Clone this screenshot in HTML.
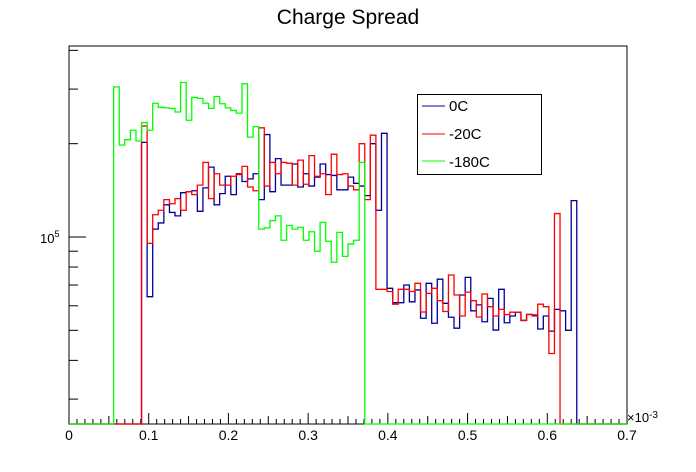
<!DOCTYPE html>
<html><head><meta charset="utf-8"><style>
body{margin:0;background:#fff;}
svg{display:block;font-family:"Liberation Sans",sans-serif;}
</style></head><body>
<svg id="chart" width="696" height="472" viewBox="0 0 696 472">
<rect width="696" height="472" fill="#fff"/>
<text x="348" y="24" font-size="21" text-anchor="middle">Charge Spread</text>
<rect x="69" y="46" width="558" height="378" fill="none" stroke="#000" stroke-width="1"/>
<g id="axes"></g>
<g id="plot"></g>
<g>
<rect x="417.5" y="94.5" width="124" height="80" fill="#fff" stroke="#000"/>
<g><line x1="422" y1="106" x2="445" y2="106" stroke="#00009c"/><text x="449" y="111" font-size="15">0C</text></g>
<g><line x1="422" y1="134" x2="445" y2="134" stroke="#ff0000"/><text x="449" y="139" font-size="15">-20C</text></g>
<g><line x1="422" y1="161" x2="445" y2="161" stroke="#00ff00"/><text x="449" y="167" font-size="15">-180C</text></g>
</g>
</svg>
<script>
// values in thousands of counts, per bin (100 bins over 0..0.7e-3)
const nBins = 100;
const xMin = 0, xMax = 0.7;
const xTickLabels = ["0","0.1","0.2","0.3","0.4","0.5","0.6","0.7"];
const green180Start = 8;
const green180 = [305,198,206,221,204,234,221,270,262,261,260,253,315,238,282,280,270,260,284,269,261,256,251,312,210,227,106,107,113,117,97.6,109,106,107.5,97.6,104,90,111.5,96.9,82.9,103.5,86.6,94.9,97.6,174];
const blue0Start = 13;
const blue0 = [202,64.2,106,111,127,120,117,139,140,141,121,144,168,127,138,157,137,160,151,154,160,132,214,140,179,147,147,172,145,160,146,156,172,159,158,142,142,156,149,146,136,200,122,216,68.3,61.4,61.4,70,61.8,67.5,54.7,70.9,52.7,73.1,61.1,55.1,50.8,65,74.1,57.8,60.4,53.3,63.4,50.1,67.8,52.9,55.6,57.2,53.8,56.3,56,50.5,55.6,49.7,58.4,57.8,50,131];
const red20Start = 13;
const red20 = [228,95.4,118,122,132,128,133,122,140,137,147,174,133,160,147,147,157,159,169,145,141,225,146,174,160,174,173,147,177,148,183,157,160,137,185,159,160,146,142,200,132,213,67.8,67.8,66.7,60.7,67.8,67.8,66.7,70.9,57.3,65.8,68.3,62.3,57.5,75.4,65,55.6,66.4,62.3,55.2,65.5,59.6,55.6,58.4,56.2,57.2,57.2,53.8,56.2,55.6,60.7,59.6,42.1,119];

const X0=69, X1=627, Y0=46, Y1=424;
const yRefPx=237, pxPerDecade=310;
function xs(v){return X0+(v-xMin)/(xMax-xMin)*(X1-X0);}
function ys(v){ if(!(v>0)) return Y1; const y=yRefPx-pxPerDecade*Math.log10(v*1000/1e5); return Math.max(Y0,Math.min(Y1,y));}
const NS="http://www.w3.org/2000/svg";
const plot=document.getElementById('plot');
const axes=document.getElementById('axes');
function full(start,arr){const a=new Array(nBins).fill(0);arr.forEach((v,i)=>{a[start+i]=v;});return a;}
function histPath(vals){
  const bw=(xMax-xMin)/nBins;
  let d="M"+xs(xMin)+" "+ys(vals[0]);
  for(let i=0;i<nBins;i++){
    const y=ys(vals[i]);
    d+=" L"+xs(xMin+i*bw)+" "+y+" L"+xs(xMin+(i+1)*bw)+" "+y;
  }
  return d;
}
const series=[[blue0Start,blue0,"#00009c","hist-0c"],[red20Start,red20,"#ff0000","hist-minus20c"],[green180Start,green180,"#00ff00","hist-minus180c"]];
series.forEach(s=>{
  const p=document.createElementNS(NS,'path');
  p.setAttribute('d',histPath(full(s[0],s[1])));
  p.setAttribute('fill','none');p.setAttribute('stroke',s[2]);p.setAttribute('stroke-width','1.3');
  
  
  plot.appendChild(p);
});
function line(x1,y1,x2,y2,name){
  const l=document.createElementNS(NS,'line');
  l.setAttribute('x1',x1);l.setAttribute('y1',y1);l.setAttribute('x2',x2);l.setAttribute('y2',y2);
  l.setAttribute('stroke','#000');
  
  
  axes.appendChild(l);
}
function text(x,y,s,size,anchor,name){
  const t=document.createElementNS(NS,'text');
  t.setAttribute('x',x);t.setAttribute('y',y);t.setAttribute('font-size',size);t.setAttribute('text-anchor',anchor);
  t.textContent=s;
  
  
  axes.appendChild(t);return t;
}
// x ticks
for(let k=0;k<=70;k++){
  const v=k*0.01, x=xs(v);
  const len = k%10===0?11:(k%5===0?8:5);
  line(x,Y1,x,Y1-len,'x-tick');
}
xTickLabels.forEach((lab,i)=>{ text(xs(i*0.1),440,lab,14,'middle','x-tick-label'); });
const ex=text(627,422,"\u00d710",13,'start','x-axis-exponent');
const sup=document.createElementNS(NS,'tspan');sup.setAttribute('dy','-4');sup.setAttribute('font-size','10');sup.textContent="-3";ex.appendChild(sup);
// y ticks (log)
const yMinor=[30,40,50,60,70,80,90,200,300,400];
yMinor.forEach(v=>{const y=ys(v);line(X0,y,X0+9,y,'y-minor-tick');});
line(X0,ys(100),X0+17,ys(100),'y-major-tick');
const yl=text(40,ys(100)+6,"10",13,'start','y-tick-label');
const ys5=document.createElementNS(NS,'tspan');ys5.setAttribute('dy','-6');ys5.setAttribute('font-size','9');ys5.textContent="5";yl.appendChild(ys5);
</script>
</body></html>
